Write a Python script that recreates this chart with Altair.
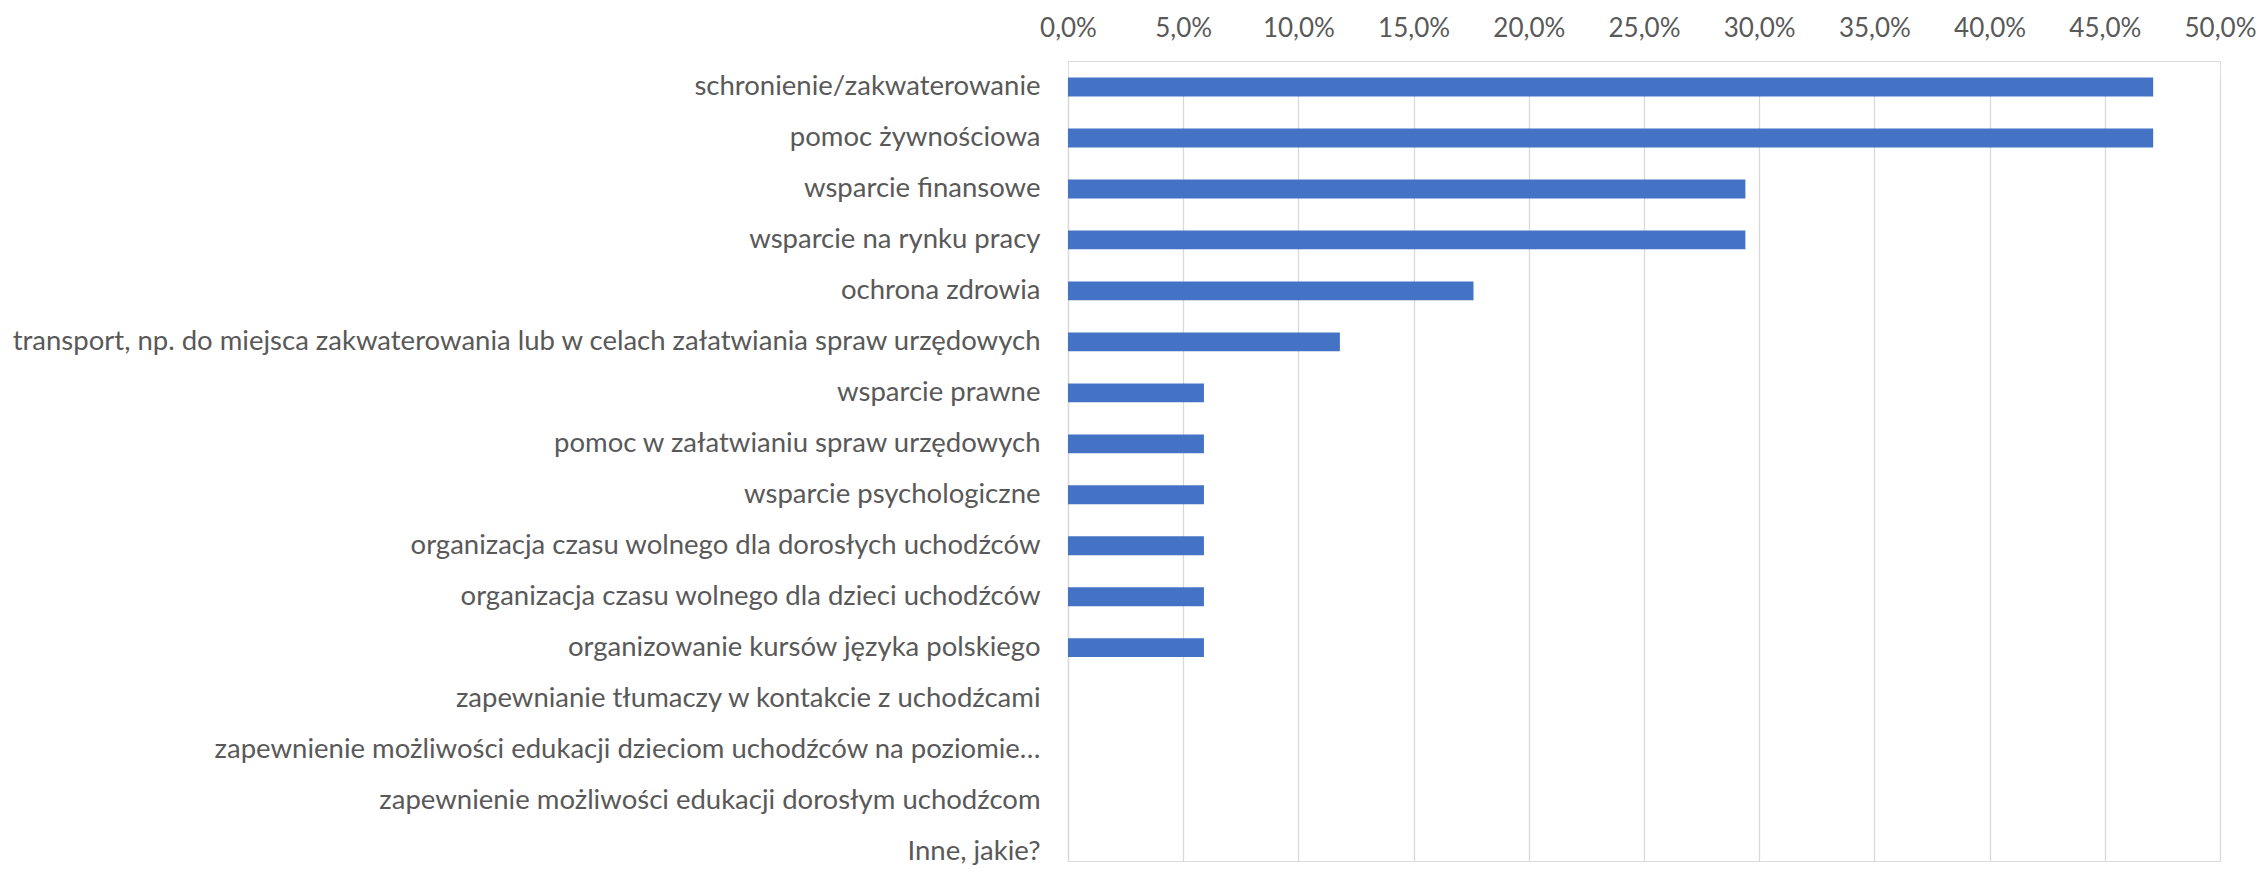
import altair as alt
import pandas as pd

categories = [
    "schronienie/zakwaterowanie",
    "pomoc żywnościowa",
    "wsparcie finansowe",
    "wsparcie na rynku pracy",
    "ochrona zdrowia",
    "transport, np. do miejsca zakwaterowania lub w celach załatwiania spraw urzędowych",
    "wsparcie prawne",
    "pomoc w załatwianiu spraw urzędowych",
    "wsparcie psychologiczne",
    "organizacja czasu wolnego dla dorosłych uchodźców",
    "organizacja czasu wolnego dla dzieci uchodźców",
    "organizowanie kursów języka polskiego",
    "zapewnianie tłumaczy w kontakcie z uchodźcami",
    "zapewnienie możliwości edukacji dzieciom uchodźców na poziomie…",
    "zapewnienie możliwości edukacji dorosłym uchodźcom",
    "Inne, jakie?",
]
values = [47.1, 47.1, 29.4, 29.4, 17.6, 11.8, 5.9, 5.9, 5.9, 5.9, 5.9, 5.9, 0.0, 0.0, 0.0, 0.0]
x_ticks = [0, 5, 10, 15, 20, 25, 30, 35, 40, 45, 50]

df = pd.DataFrame({"kategoria": categories, "wartosc": values})

FONT = "Lato"
TXT = "#595959"

chart = (
    alt.Chart(df)
    .mark_bar(color="#4472C4")
    .encode(
        x=alt.X(
            "wartosc:Q",
            scale=alt.Scale(domain=[0, 50], nice=False),
            axis=alt.Axis(
                orient="top",
                values=x_ticks,
                labelExpr="replace(format(datum.value, '.1f'), '.', ',') + '%'",
                title=None,
                ticks=False,
                domain=False,
                grid=True,
                gridColor="#d9d9d9",
                gridWidth=1.3,
                labelFont=FONT,
                labelFontSize=26,
                labelColor=TXT,
                labelPadding=20,
                labelFlush=False,
                labelOverlap=False,
                labelBound=False,
            ),
        ),
        y=alt.Y(
            "kategoria:N",
            sort=None,
            scale=alt.Scale(range=[16.6, 800.0], paddingInner=0.63, paddingOuter=0),
            axis=alt.Axis(
                title=None,
                ticks=False,
                domain=True,
                domainColor="#d9d9d9",
                domainWidth=1.3,
                labelFont=FONT,
                labelFontSize=27.5,
                labelColor=TXT,
                labelPadding=28,
                labelLimit=0,
            ),
        ),
    )
    .properties(
        width=1152,
        height=800,
        padding={"left": 1060, "top": 53, "right": 36, "bottom": 6},
        autosize=alt.AutoSizeParams(type="none"),
    )
    .configure_view(strokeWidth=0)
    .configure(background="white")
)

chart.save("out.html", embed_options={"renderer": "svg", "actions": False})
